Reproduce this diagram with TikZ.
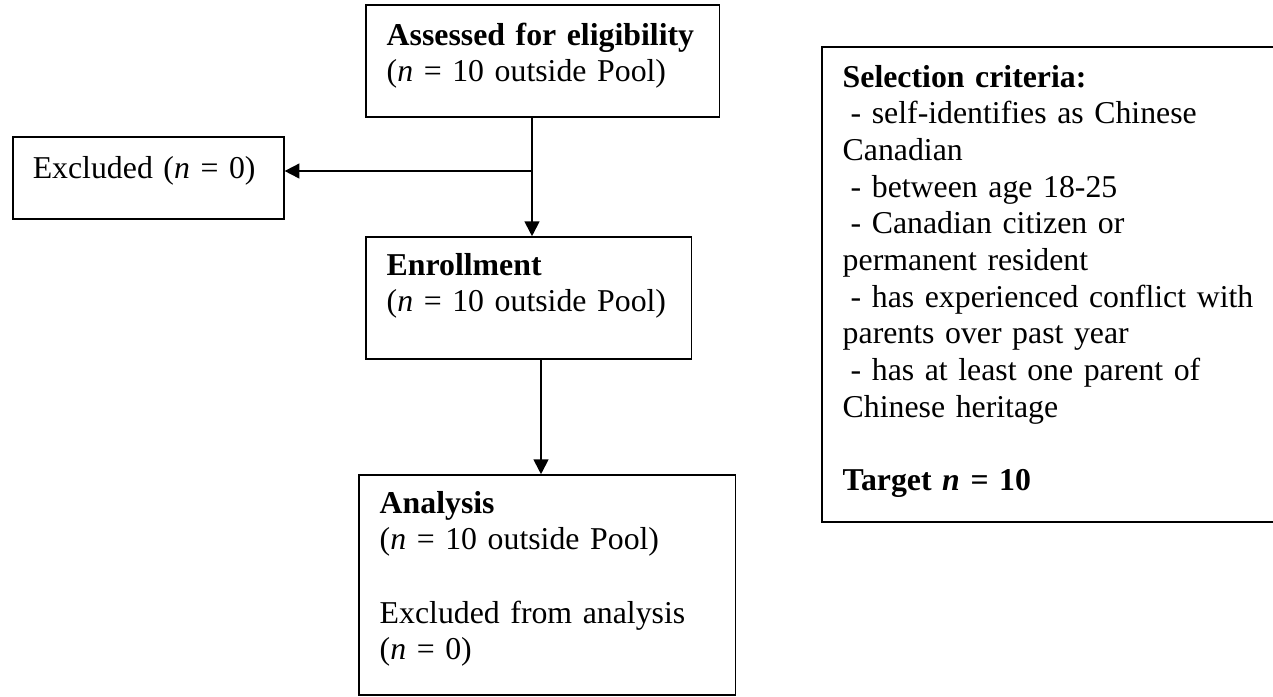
\documentclass[tikz,border=0pt]{standalone}
\usepackage{fontspec}
\setmainfont{Liberation Serif}
\usetikzlibrary{arrows.meta}

\begin{document}
\begin{tikzpicture}[x=0.3774pt, y=-0.3774pt,
	box/.style={draw, line width=0.6pt, inner ysep=0pt, inner xsep=7.9pt, align=left, anchor=base west, font=\fontsize{12}{13.85}\selectfont},
	flow/.style={line width=0.7pt, -{Triangle[length=5.6pt, width=5.6pt]}}]
	\useasboundingbox (0,0) rectangle (1273,696);
	
	%boxes
	\node[box, text width=117.75pt, text height=15.1pt, text depth=27.17pt] (assess) at (365,45)
		{\textbf{Assessed for eligibility}\\(\textit{n} = 10 outside Pool)};
	\node[box, inner xsep=7.55pt, text width=87.18pt, text height=15.47pt, text depth=15.47pt] (excl) at (12,178)
		{Excluded (\textit{n} = 0)};
	\node[box, text width=107.18pt, text height=14.34pt, text depth=31.7pt] (enroll) at (365,275)
		{\textbf{Enrollment}\\(\textit{n} = 10 outside Pool)};
	\node[box, text width=126.43pt, text height=14.34pt, text depth=68.69pt] (analysis) at (358,513)
		{\textbf{Analysis}\\(\textit{n} = 10 outside Pool)\\[\baselineskip]Excluded from analysis\\(\textit{n} = 0)};
	\node[box, text width=161.1pt, text height=15.1pt, text depth=164.17pt] (criteria) at (821,87)
		{\textbf{Selection criteria:}\\
		\hspace*{0.25em}- self-identifies as Chinese\\
		Canadian\\
		\hspace*{0.25em}- between age 18-25\\
		\hspace*{0.25em}- Canadian citizen or\\
		permanent resident\\
		\hspace*{0.25em}- has experienced conflict with\\
		parents over past year\\
		\hspace*{0.25em}- has at least one parent of\\
		Chinese heritage\\[\baselineskip]
		\textbf{Target \textit{n} = 10}};
	
	%arrows
	\coordinate (split) at (532,171);
	\coordinate (drop) at (541,359);
	\draw[line width=0.7pt] (assess.south -| split)--(split);
	\draw[flow] (split)--(split |- enroll.north);
	\draw[flow] (split)--(excl.east |- split);
	\draw[flow] (enroll.south -| drop)--(drop |- analysis.north);
\end{tikzpicture}
\end{document}
